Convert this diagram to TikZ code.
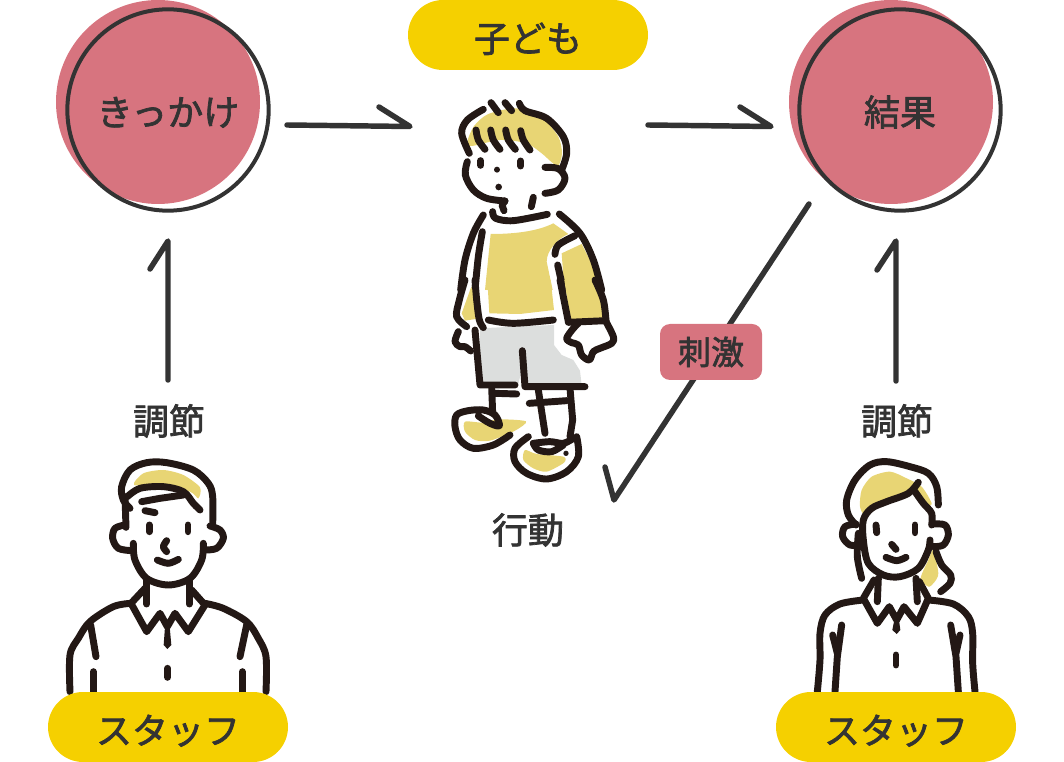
\documentclass[tikz,border=0pt]{standalone}
\usepackage{fontspec}
\newfontfamily\cjk[FakeBold=2]{Noto Sans CJK JP}
\definecolor{rose}{HTML}{D7747F}
\definecolor{sun}{HTML}{F5D000}
\definecolor{straw}{HTML}{E8D574}
\definecolor{ash}{HTML}{DCDEDD}
\definecolor{ink}{HTML}{231815}
\definecolor{label}{HTML}{333333}
\tikzset{
    blob/.style={circle, fill=rose, minimum size=153pt, inner sep=0},
    ring/.style={circle, draw=label, line width=3pt, minimum size=151pt, inner sep=0, text=label, text height=26pt, text depth=2.5pt, font=\cjk\fontsize{27}{27}\selectfont},
    pill/.style={rounded corners=26.25pt, fill=sun, minimum width=180pt, minimum height=52.5pt, inner sep=0, text=label, text height=28pt, text depth=2.5pt, font=\cjk\fontsize{27}{27}\selectfont},
    tag/.style={rounded corners=7.5pt, fill=rose, minimum width=76.5pt, minimum height=42pt, inner sep=0, text=label, font=\cjk\fontsize{24.75}{25}\selectfont},
    caption/.style={inner sep=0, text=label, font=\cjk\fontsize{27}{27}\selectfont},
    link/.style={draw=label, line width=4.1pt, line cap=round, line join=round},
    stroke/.style={draw=ink, line width=5.2pt, line cap=round, line join=round},
    patch/.style={fill=#1, draw=none}
}
\newcommand{\inkline}[1]{\draw[stroke] plot[smooth,tension=.55] coordinates {#1};}
\newcommand{\patchshape}[2]{\fill[patch=#1] plot[smooth cycle,tension=.45] coordinates {#2};}
\begin{document}
\begin{tikzpicture}[x=.75pt,y=-.75pt]
    \useasboundingbox (0,0) rectangle (1064,762);

    % circles
    \node[blob] (cueBlob) at (158,102) {};
    \node[blob] (resultBlob) at (891,102) {};
    \node[ring] (cue) at (168,110) {きっかけ};
    \node[ring] (result) at (900,110) {結果};

    % arrows
    \coordinate (cueTail) at (287,125);
    \coordinate (cueHead) at (410,126.5);
    \coordinate (cueBarb) at (379,107);
    \coordinate (childTail) at (648,125);
    \coordinate (childHead) at (771,126.5);
    \coordinate (childBarb) at (740,107);
    \coordinate (backTail) at (809,204);
    \coordinate (backHead) at (614,500);
    \coordinate (backBarb) at (605,467);
    \coordinate (leftTail) at (168,380);
    \coordinate (leftHead) at (168,241);
    \coordinate (leftBarb) at (150,269);
    \coordinate (rightTail) at (896,381);
    \coordinate (rightHead) at (896,241);
    \coordinate (rightBarb) at (877,270);
    \draw[link] (cueTail) -- (cueHead) -- (cueBarb);
    \draw[link] (childTail) -- (childHead) -- (childBarb);
    \draw[link] (backTail) -- (backHead) -- (backBarb);
    \draw[link] (leftTail) -- (leftHead) -- (leftBarb);
    \draw[link] (rightTail) -- (rightHead) -- (rightBarb);

    % labels
    \node[pill] (child) at (528,35) {子ども};
    \node[tag] (stimulus) at (711,352) {刺激};
    \node[caption] (adjustLeft) at (169,421) {調節};
    \node[caption] (adjustRight) at (897,421) {調節};
    \node[caption] (action) at (528,530) {行動};

    % child, upper half
    \begin{scope}[shift={(430,90)},x=.25pt,y=-.25pt]
        \patchshape{straw}{(112,155) (132,108) (175,72) (260,55) (340,88) (385,140) (396,190) (382,228) (335,190) (290,160) (210,150) (125,168)}
        \fill[patch=straw] (182,432) .. controls (250,432) and (320,425) .. (370,400) -- (415,432) .. controls (385,445) and (350,480) .. (350,515) -- (368,600) -- (165,600) -- cycle;
        \fill[patch=straw] (395,490) -- (455,462) -- (490,530) -- (510,600) -- (403,600) -- cycle;
        \fill[patch=straw] (135,560) -- (132,600) -- (122,600) -- cycle;
        \inkline{(160,58) (112,90) (95,130) (118,190)}
        \inkline{(183,38) (205,68)}
        \inkline{(225,38) (245,62)}
        \inkline{(268,40) (285,62) (350,85) (400,140) (410,190) (395,240)}
        \inkline{(345,232) (385,236) (405,265) (385,300) (345,310)}
        \inkline{(138,120) (145,150) (165,178)}
        \inkline{(182,120) (190,150) (210,178)}
        \inkline{(227,120) (235,150) (256,178)}
        \inkline{(272,122) (280,150) (300,180)}
        \inkline{(152,212) (152,226)}
        \inkline{(272,213) (272,228)}
        \fill[ink] (201,239) circle [radius=9];
        \fill[ink] (206,291) circle [radius=10];
        \inkline{(112,215) (106,255) (130,300) (170,325) (225,333)}
        \draw[stroke] (225,333) -- (216,345) -- (222,362);
        \inkline{(310,322) (304,350)}
        \inkline{(188,365) (197,385) (250,392) (352,373)}
        \inkline{(160,375) (130,430) (105,510) (92,600)}
        \inkline{(157,425) (145,500) (135,600)}
        \inkline{(388,372) (450,430) (490,510) (515,600)}
        \inkline{(375,493) (385,465) (435,437)}
        \inkline{(383,525) (400,600)}
    \end{scope}

    % child, lower half
    \begin{scope}[shift={(430,280)},x=.25pt,y=-.25pt]
        \fill[patch=straw] (172,0) -- (362,0) -- (372,90) -- (270,102) -- (178,100) -- cycle;
        \fill[patch=straw] (122,25) -- (138,20) -- (150,115) -- (105,122) -- (95,100) -- cycle;
        \fill[patch=straw] (403,0) -- (500,0) -- (522,60) -- (526,115) -- (420,120) -- cycle;
        \fill[patch=ash] (150,145) -- (250,140) -- (372,135) -- (372,195) -- (395,225) -- (430,240) -- (450,272) -- (455,316) -- (285,318) -- (275,270) -- (265,312) -- (150,315) -- cycle;
        \patchshape{straw}{(105,425) (160,428) (205,418) (288,424) (255,452) (180,482) (135,480) (105,455)}
        \patchshape{straw}{(285,510) (320,522) (400,530) (402,548) (350,575) (310,565) (280,540)}
        \inkline{(105,0) (88,60) (80,110) (110,140)}
        \inkline{(135,0) (140,60) (148,120) (160,143)}
        \inkline{(175,120) (250,130) (370,120)}
        \inkline{(390,0) (415,125)}
        \inkline{(495,0) (520,60) (528,122)}
        \draw[stroke] (415,127) -- (528,122);
        \inkline{(528,125) (550,170) (545,190) (510,205) (490,215) (478,240) (455,225) (445,195) (425,188) (410,175) (430,145) (445,130)}
        \inkline{(85,155) (75,185) (90,200) (105,200) (122,213)}
        \draw[stroke] (135,150) -- (150,315) -- (255,315);
        \draw[stroke] (277,212) -- (285,320) -- (465,320);
        \draw[stroke] (185,320) -- (188,400);
        \draw[stroke] (195,340) -- (260,342);
        \draw[stroke] (325,330) -- (345,460);
        \draw[stroke] (420,325) -- (428,420) -- (420,470);
        \draw[stroke] (298,370) -- (410,362);
        \inkline{(240,465) (190,495) (130,505) (90,480) (75,440) (80,405) (115,392) (160,390) (195,405) (208,437) (180,430) (145,408)}
        \inkline{(295,470) (255,505) (255,545) (290,580) (350,597) (410,575) (445,530) (440,470)}
        \inkline{(310,490) (360,485) (400,490) (430,475)}
        \inkline{(310,490) (325,510) (365,515) (400,495)}
        \fill[ink] (408,520) circle [radius=8];
    \end{scope}

    % staff, left
    \begin{scope}[shift={(50,450)},x=.25pt,y=-.25pt]
        \patchshape{straw}{(252,105) (280,70) (340,60) (400,75) (450,112) (445,145) (420,125) (330,105)}
        \inkline{(240,175) (220,150) (215,110) (240,60) (290,38) (350,38) (430,60) (475,100) (488,140) (488,225)}
        \draw[stroke] (225,140) -- (228,232);
        \inkline{(232,140) (270,115) (340,110) (400,125) (430,160) (450,180)}
        \draw[stroke] (275,155) -- (330,145) -- (400,135);
        \draw[stroke] (285,182) -- (315,188);
        \draw[stroke] (298,225) -- (298,245);
        \draw[stroke] (414,225) -- (414,245);
        \inkline{(350,272) (340,290) (350,305)}
        \inkline{(322,330) (355,340) (385,328)}
        \inkline{(250,280) (255,330) (290,385) (355,405) (420,385) (455,330) (460,280)}
        \inkline{(225,225) (195,235) (188,265) (205,295) (245,302)}
        \inkline{(480,228) (510,240) (520,265) (500,295) (465,300)}
        \draw[stroke] (290,390) -- (290,462);
        \draw[stroke] (418,390) -- (418,462);
        \draw[stroke] (285,415) -- (243,460) -- (290,545) -- (330,490) -- (352,530) -- (375,490) -- (415,545) -- (465,465) -- (425,420);
        \fill[ink] (345,530) -- (359,530) -- (364,585) -- (352,597) -- (341,585) -- cycle;
        \inkline{(243,460) (190,470) (120,515) (85,565) (60,615) (60,725)}
        \inkline{(465,460) (520,475) (590,515) (625,565) (648,620) (648,725)}
        \draw[stroke] (122,525) -- (138,620);
        \draw[stroke] (590,525) -- (570,620);
        \draw[stroke] (130,665) -- (130,725);
        \draw[stroke] (577,665) -- (577,725);
        \draw[stroke] (353,655) -- (353,682);
    \end{scope}

    % staff, right
    \begin{scope}[shift={(800,450)},x=.25pt,y=-.25pt]
        \patchshape{straw}{(180,170) (185,120) (215,80) (270,65) (320,85) (365,110) (395,160) (378,165) (345,130) (300,150) (230,165) (195,195)}
        \patchshape{straw}{(400,300) (415,370) (402,398) (385,410) (362,385) (385,330)}
        \inkline{(168,225) (145,195) (140,150) (165,90) (210,45) (260,35) (330,50) (385,70) (410,110) (415,165)}
        \inkline{(355,97) (325,130) (260,155) (215,175) (190,210) (190,270) (205,340) (250,375) (300,380) (355,355) (385,300) (390,270)}
        \inkline{(345,125) (370,160) (395,190) (395,225)}
        \inkline{(168,222) (135,230) (128,260) (150,285) (185,285)}
        \inkline{(400,222) (435,225) (445,255) (430,285) (400,290)}
        \inkline{(175,250) (172,320) (185,385)}
        \inkline{(408,305) (425,345) (452,375) (450,400) (422,425)}
        \draw[stroke] (228,225) -- (230,248);
        \draw[stroke] (345,225) -- (345,248);
        \draw[stroke] (275,283) -- (288,298);
        \inkline{(258,322) (290,332) (318,322)}
        \draw[stroke] (235,385) -- (232,455);
        \draw[stroke] (348,385) -- (352,455);
        \draw[stroke] (222,390) -- (190,445) -- (232,520) -- (268,470) -- (290,510) -- (312,470) -- (352,520) -- (385,445) -- (358,395);
        \fill[ink] (283,510) -- (297,510) -- (301,540) -- (290,552) -- (277,540) -- cycle;
        \inkline{(190,450) (120,462) (75,495) (60,550) (60,630) (52,725)}
        \inkline{(385,450) (460,462) (505,500) (518,550) (518,640) (525,725)}
        \draw[stroke] (125,525) -- (112,620) -- (105,725);
        \draw[stroke] (98,555) -- (112,610);
        \draw[stroke] (452,525) -- (468,620) -- (475,725);
        \draw[stroke] (480,555) -- (468,610);
        \draw[stroke] (288,615) -- (288,645);
    \end{scope}

    % bottom labels go over the bodies
    \node[pill] (staffLeft) at (168,727) {スタッフ};
    \node[pill] (staffRight) at (896,727) {スタッフ};
\end{tikzpicture}
\end{document}
